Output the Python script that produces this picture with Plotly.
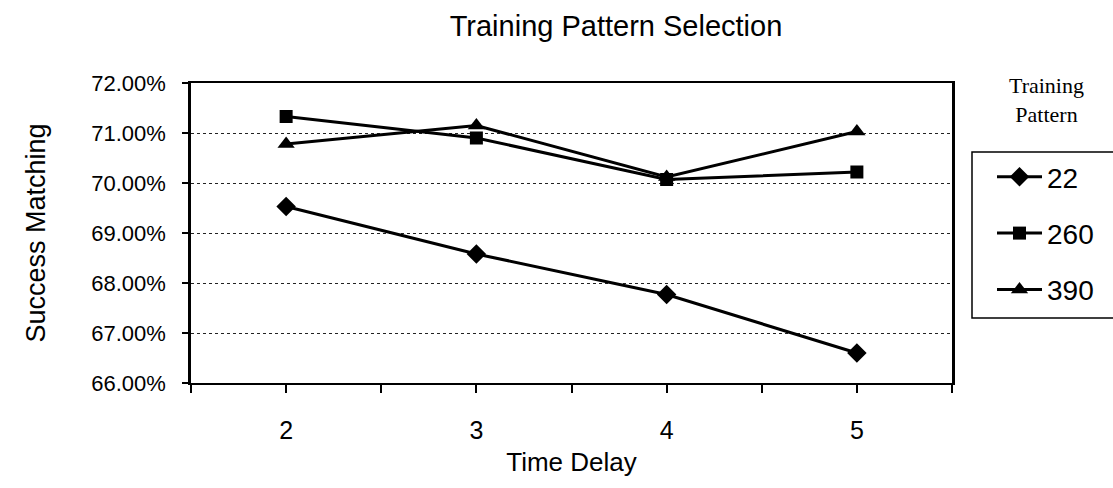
import plotly.graph_objects as go

time_delay = [2, 3, 4, 5]
series_names = ["22", "260", "390"]
success_22 = [0.6953, 0.6858, 0.6777, 0.6660]
success_260 = [0.7133, 0.7090, 0.7007, 0.7022]
success_390 = [0.7078, 0.7115, 0.7012, 0.7103]
symbols = ["diamond", "square", "triangle-up"]
marker_sizes = [15, 13, 15]

fig = go.Figure()
for name, vals, sym, ms in zip(series_names, [success_22, success_260, success_390], symbols, marker_sizes):
    fig.add_trace(go.Scatter(
        x=time_delay, y=vals, name=name, mode="lines+markers",
        legendgroup=name,
        line=dict(color="black", width=3),
        marker=dict(symbol=sym, size=ms, color="black"),
    ))

L, R, T, B = 191, 161, 83, 105
W, H = 1113, 488
pw = W - L - R
ph = H - T - B

def px_x(p):
    return (p - L) / pw

def px_y(p):
    return (H - B - p) / ph

fig.update_layout(
    width=W, height=H,
    margin=dict(l=L, r=R, t=T, b=B),
    paper_bgcolor="white", plot_bgcolor="white",
    font=dict(family="Arial, Liberation Sans, sans-serif", color="black"),
    title=dict(text="Training Pattern Selection", x=px_x(616), xref="paper", xanchor="center",
               y=1 - 26 / H, yanchor="middle",
               font=dict(size=29, color="black")),
    xaxis=dict(
        range=[1.5, 5.5], tickmode="array", tickvals=time_delay,
        ticktext=[str(v) for v in time_delay],
        ticks="outside", ticklen=8, tickwidth=1.5, tickcolor="black",
        minor=dict(ticks="outside", ticklen=8, tickwidth=1.5, tickcolor="black",
                   tickmode="array", tickvals=[1.5, 2.5, 3.5, 4.5, 5.5]),
        showline=True, linecolor="black", linewidth=2, mirror=True,
        showgrid=False, zeroline=False,
        tickfont=dict(size=25), ticklabelstandoff=16,
        title=dict(text="Time Delay", font=dict(size=26), standoff=10),
    ),
    yaxis=dict(
        range=[0.66, 0.72], dtick=0.01, tick0=0.66, tickformat=".2%",
        ticks="outside", ticklen=6, tickwidth=1.5, tickcolor="black",
        showline=True, linecolor="black", linewidth=2.5, mirror=True,
        showgrid=True, gridcolor="#222222", gridwidth=1, griddash="dot",
        zeroline=False,
        tickfont=dict(size=22), ticklabelstandoff=12,
        title=dict(text="Success Matching", font=dict(size=27), standoff=38),
    ),
    legend=dict(
        x=px_x(992), y=px_y(152), xanchor="left", yanchor="top",
        bgcolor="rgba(0,0,0,0)", borderwidth=0,
        font=dict(size=28, color="black"),
        tracegroupgap=17, itemwidth=45,
    ),
    showlegend=True,
)

# legend frame (open at the right edge like the reference)
fig.add_shape(type="rect", xref="paper", yref="paper",
              x0=px_x(972), x1=px_x(1125), y0=px_y(318), y1=px_y(152),
              line=dict(color="black", width=1.5), fillcolor="rgba(0,0,0,0)")

fig.add_annotation(text="Training<br>Pattern", xref="paper", yref="paper",
                   x=px_x(1046), y=px_y(100), xanchor="center", yanchor="middle",
                   showarrow=False, align="center",
                   font=dict(family="Liberation Serif, Times New Roman, serif", size=22, color="black"))

fig.write_html("out.html")
